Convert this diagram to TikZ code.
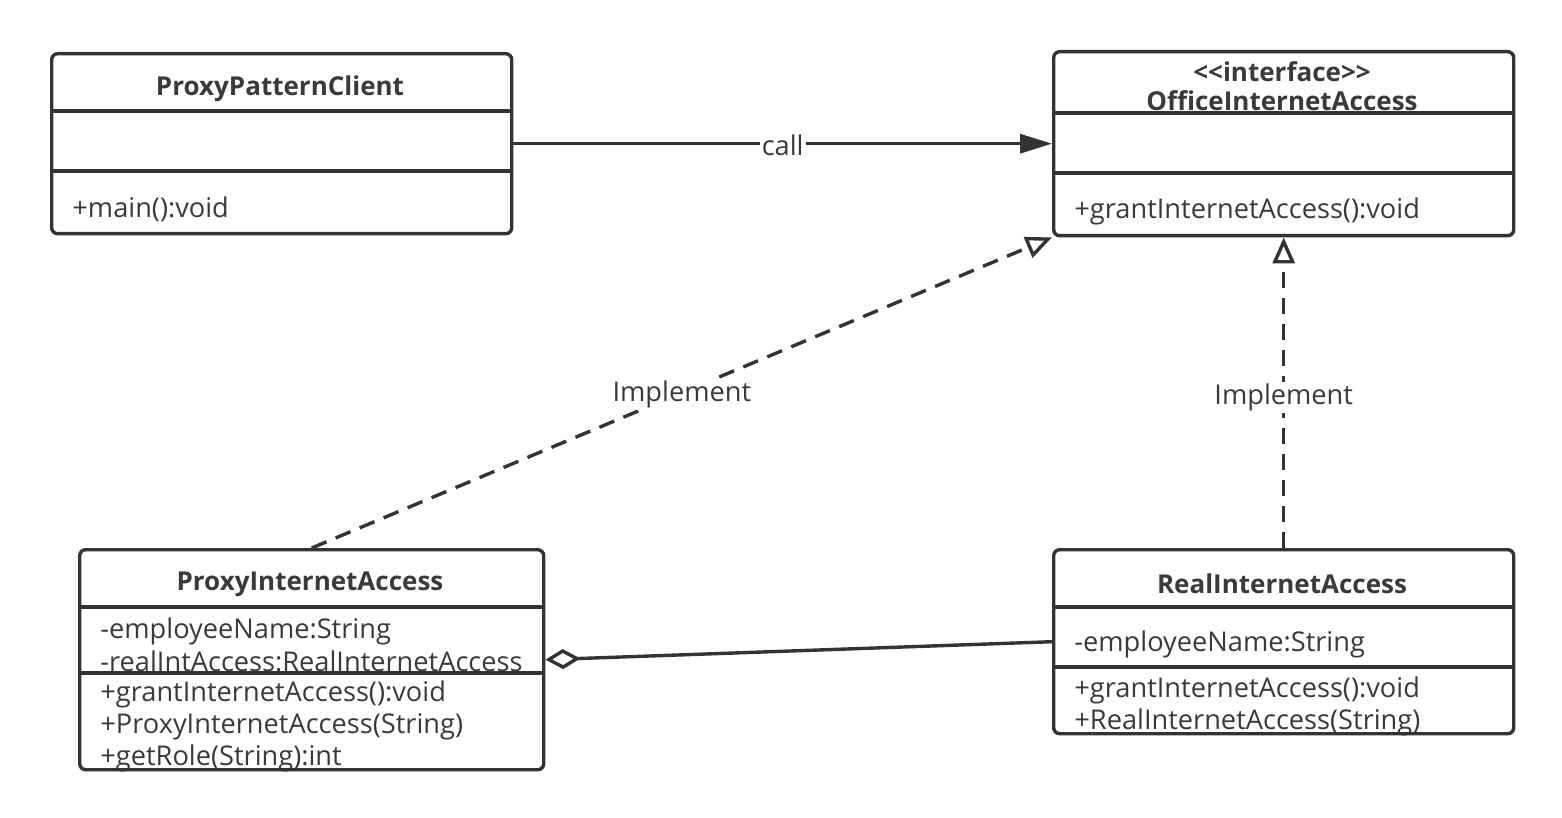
\documentclass[tikz,border=0pt]{standalone}
\usepackage{fontspec}
\setmainfont{Open Sans}
\usetikzlibrary{arrows.meta}
\definecolor{ink}{HTML}{333333}
\definecolor{txtc}{HTML}{3A3A3A}
\begin{document}
\begin{tikzpicture}[x=0.5pt,y=-0.5pt,
  box/.style={draw=ink,line width=1.7pt,rounded corners=3pt,inner sep=0,anchor=north west},
  sep/.style={draw=ink,line width=1.7pt},
  txt/.style={anchor=west,inner sep=0,yshift=-1.5pt,text=txtc,font=\fontsize{13.6}{15}\selectfont},
  ttl/.style={inner sep=0,yshift=-1.5pt,text=txtc,font=\fontsize{13}{15}\selectfont\bfseries},
  conn/.style={draw=ink,line width=1.7pt},
  dsh/.style={dash pattern=on 8pt off 5pt},
  lbl/.style={fill=white,inner sep=1pt,yshift=-1pt,text=txtc,font=\fontsize{13.6}{15}\selectfont}]
\useasboundingbox[fill=white] (0,0) rectangle (1562,818);
% texts
\node[ttl] (clientT) at (280,86) {ProxyPatternClient};
\node[txt] (clientM) at (72,206) {+main():void};
\node[ttl] (ifaceS) at (1282,69) {<{}<interface>{}>};
\node[ttl] (ifaceT) at (1282,98) {OfficeInternetAccess};
\node[txt] (ifaceM) at (1074,208) {+grantInternetAccess():void};
\node[ttl] (proxyT) at (310,581) {ProxyInternetAccess};
\node[txt] (proxyA1) at (100,628) {-employeeName:String};
\node[txt] (proxyA2) at (100,658) {-realIntAccess:RealInternetAccess};
\node[txt] (proxyM1) at (100,691) {+grantInternetAccess():void};
\node[txt] (proxyM2) at (100,724) {+ProxyInternetAccess(String)};
\node[txt] (proxyM3) at (100,755) {+getRole(String):int};
\node[ttl] (realT) at (1282,581) {RealInternetAccess};
\node[txt] (realA1) at (1074,641) {-employeeName:String};
\node[txt] (realM1) at (1074,687) {+grantInternetAccess():void};
\node[txt] (realM2) at (1074,719) {+RealInternetAccess(String)};
% boxes
\node[box,minimum width=230pt,minimum height=90pt] (client) at (50,52) {};
\draw[sep] (50,111) -- (510,111) (50,171) -- (510,171);
\node[box,minimum width=230pt,minimum height=92pt] (iface) at (1052,50) {};
\draw[sep] (1052,113) -- (1512,113) (1052,173) -- (1512,173);
\node[box,minimum width=232pt,minimum height=110pt] (proxy) at (78,548) {};
\draw[sep] (78,607) -- (542,607) (78,673) -- (542,673);
\node[box,minimum width=230pt,minimum height=92pt] (real) at (1052,548) {};
\draw[sep] (1052,607) -- (1512,607) (1052,667) -- (1512,667);
% connectors
\draw[conn,-{Triangle[length=16pt,width=9.5pt]}] (client.east) -- node[lbl]{call} (iface.west);
\draw[conn,dsh,-{Triangle[open,length=13pt,width=11pt]}] (proxy.north) -- node[lbl,pos=0.5]{Implement} (iface.south west);
\draw[conn,dsh,-{Triangle[open,length=13pt,width=11pt]}] (real.north) -- node[lbl,pos=0.49]{Implement} (iface.south);
\draw[conn,{Diamond[open,length=17.5pt,width=10pt]}-] (proxy.east) -- (real.west);
\end{tikzpicture}
\end{document}
